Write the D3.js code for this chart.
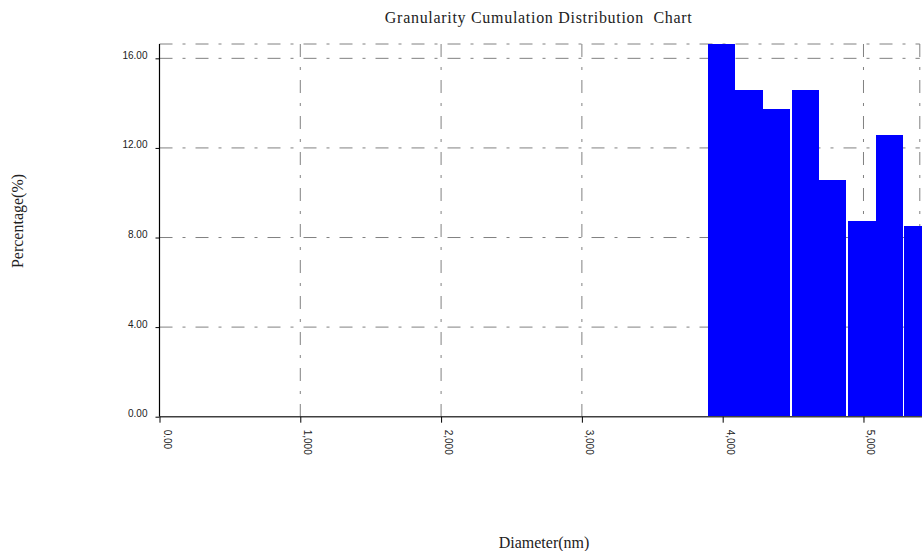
<!DOCTYPE html>
<html>
<head>
<meta charset="utf-8">
<script src="https://cdn.jsdelivr.net/npm/d3@7/dist/d3.min.js"></script>
<style>
  html, body { margin: 0; padding: 0; background: #fff; }
  svg { display: block; }
</style>
</head>
<body>
<svg id="chart" width="922" height="551"></svg>
<script>
// Histogram bins (diameter range in nm) and the share of particles in each bin (%)
const binStart = [3898, 4087, 4286, 4490, 4686, 4887, 5089, 5289];
const binEnd   = [4087, 4286, 4480, 4686, 4879, 5089, 5281, 5480];
const percent  = [16.64, 14.58, 13.75, 14.58, 10.57, 8.75, 12.59, 8.53];

// Axis ticks
const xTicks = [0, 1000, 2000, 3000, 4000, 5000];
const xTickLabels = ["0.00", "1,000", "2,000", "3,000", "4,000", "5,000"];
const yTicks = [0, 4, 8, 12, 16];
const yTickLabels = ["0.00", "4.00", "8.00", "12.00", "16.00"];

const titleText = "Granularity Cumulation Distribution  Chart";
const xTitle = "Diameter(nm)";
const yTitle = "Percentage(%)";

const svg = d3.select("#chart");
const plotLeft = 159.5, plotRight = 919.8, plotTop = 44, plotBottom = 416.7;

const x = d3.scaleLinear().domain([0, 5400]).range([plotLeft, plotRight]);
const y = d3.scaleLinear().domain([0, d3.max(percent)]).range([plotBottom, plotTop]);

const dash = "13,10,3,10";
const gridColor = "#808080";

// Dash-dot grid and plot border
const grid = svg.append("g");
yTicks.filter(v => v > 0).concat([y.domain()[1]]).forEach(v => {
  grid.append("line")
    .attr("x1", plotLeft).attr("x2", plotRight)
    .attr("y1", y(v)).attr("y2", y(v))
    .attr("stroke", gridColor).attr("stroke-width", 1)
    .attr("stroke-dasharray", dash);
});
xTicks.filter(v => v > 0).concat([x.domain()[1]]).forEach(v => {
  grid.append("line")
    .attr("x1", x(v)).attr("x2", x(v))
    .attr("y1", plotTop).attr("y2", plotBottom)
    .attr("stroke", gridColor).attr("stroke-width", 1)
    .attr("stroke-dasharray", dash);
});

// Bars
svg.append("g").selectAll("rect")
  .data(percent)
  .join("rect")
  .attr("x", (d, i) => x(binStart[i]))
  .attr("width", (d, i) => x(binEnd[i]) - x(binStart[i]))
  .attr("y", d => y(d))
  .attr("height", d => y(0) - y(d))
  .attr("fill", "#0000ff")
  .attr("shape-rendering", "crispEdges");

// Y axis
const yAxis = svg.append("g")
  .attr("transform", `translate(${plotLeft},0)`)
  .call(d3.axisLeft(y).tickValues(yTicks).tickSize(4).tickPadding(8)
    .tickFormat((d, i) => yTickLabels[i]));
yAxis.select(".domain").attr("d", `M0,${plotTop}V${plotBottom}`).attr("stroke", "#000").attr("stroke-width", 1.2);
yAxis.selectAll(".tick line").attr("stroke", "#000");
yAxis.selectAll(".tick text")
  .attr("x", -12).attr("dy", "0")
  .attr("font-family", "'Liberation Sans', Arial, sans-serif")
  .attr("font-size", 10).attr("fill", "#222");

// X axis
const xAxis = svg.append("g")
  .attr("transform", `translate(0,${plotBottom})`)
  .call(d3.axisBottom(x).tickValues(xTicks).tickSize(6)
    .tickFormat((d, i) => xTickLabels[i]));
xAxis.select(".domain").attr("d", `M${plotLeft},0H922`).attr("stroke", "#404040").attr("stroke-width", 1.6);
xAxis.selectAll(".tick line").attr("stroke", "#000");
xAxis.selectAll(".tick text")
  .attr("transform", "rotate(90)")
  .attr("x", 13).attr("y", 0).attr("dy", "-0.35em")
  .attr("text-anchor", "start")
  .attr("font-family", "'Liberation Sans', Arial, sans-serif")
  .attr("font-size", 10).attr("fill", "#222");

// Titles
const serif = "'Liberation Serif', 'DejaVu Serif', serif";
svg.append("text")
  .attr("x", (plotLeft + plotRight) / 2 - 1).attr("y", 23)
  .attr("text-anchor", "middle")
  .style("white-space", "pre")
  .attr("font-family", serif).attr("font-size", 16)
  .attr("letter-spacing", 0.7)
  .attr("fill", "#222")
  .text(titleText);

svg.append("text")
  .attr("x", 544).attr("y", 548)
  .attr("text-anchor", "middle")
  .attr("font-family", serif).attr("font-size", 16)
  .attr("fill", "#222")
  .text(xTitle);

svg.append("text")
  .attr("transform", "translate(23,221) rotate(-90)")
  .attr("text-anchor", "middle")
  .attr("font-family", serif).attr("font-size", 16)
  .attr("fill", "#222")
  .text(yTitle);
</script>
</body>
</html>
